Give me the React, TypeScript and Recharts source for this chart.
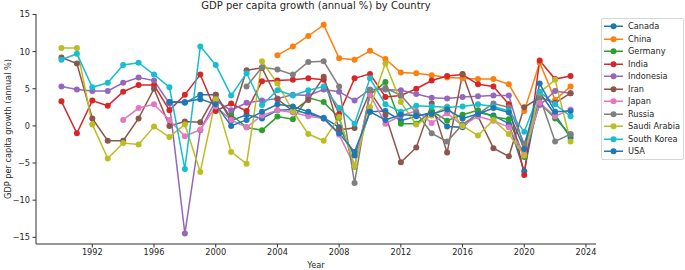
import { CartesianGrid, Line, LineChart, XAxis, YAxis } from 'recharts';

const years = [
  1990, 1991, 1992, 1993, 1994, 1995, 1996, 1997, 1998, 1999, 2000, 2001,
  2002, 2003, 2004, 2005, 2006, 2007, 2008, 2009, 2010, 2011, 2012, 2013,
  2014, 2015, 2016, 2017, 2018, 2019, 2020, 2021, 2022, 2023,
];

const _ = null;

const canada = [_, _, _, _, _, _, _, 3.2, 3.1, 4.2, 4.2, 0.7, 1.5, 1.0, 2.1, 2.2, 1.6, 1.1, -0.2, -4.0, 1.9, 2.0, 0.7, 1.3, 1.8, -0.1, -0.2, 1.8, 1.4, 0.3, -6.1, 4.5, 1.5, -1.6];
const china = [_, _, _, _, _, _, _, _, _, _, _, _, _, _, 9.5, 10.7, 12.1, 13.6, 9.1, 8.9, 10.1, 9.0, 7.2, 7.1, 6.8, 6.5, 6.4, 6.3, 6.3, 5.6, 2.0, 8.5, 3.5, 5.3];
const germany = [_, _, _, _, _, _, _, _, _, _, _, 1.5, -0.2, -0.6, 1.25, 0.9, 3.8, 3.2, 1.1, -5.5, 4.2, 5.9, 0.3, 0.3, 2.0, 0.7, 1.5, 2.1, 1.2, 0.9, -4.2, 3.1, 1.0, -1.2];
const india = [3.3, -1.0, 3.4, 2.7, 4.6, 5.5, 5.5, 2.1, 4.2, 6.9, 2.0, 3.0, 2.0, 6.0, 6.1, 6.2, 6.4, 6.2, 1.6, 6.4, 7.0, 3.9, 4.1, 5.0, 6.1, 6.7, 6.9, 5.6, 5.3, 2.9, -6.6, 8.8, 6.3, 6.7];
const indonesia = [5.3, 4.9, 4.7, 4.7, 5.8, 6.5, 6.1, 3.0, -14.5, -0.6, 3.4, 2.1, 3.1, 3.4, 3.7, 4.2, 4.1, 4.9, 4.6, 3.4, 4.9, 4.9, 4.8, 4.3, 3.8, 3.7, 3.9, 4.0, 4.1, 4.1, -3.0, 2.8, 4.7, 4.4];
const iran = [9.2, 8.4, 1.0, -2.0, -2.0, 1.0, 5.0, 0.0, 0.6, 0.5, 4.2, 1.0, 7.5, 7.8, 3.6, 2.0, 3.5, 6.6, -0.5, -0.3, 4.6, 1.5, -4.9, -2.9, 3.0, -3.6, 7.0, 1.3, -3.0, -4.1, 2.5, 3.8, 3.1, 4.4];
const japan = [_, _, _, _, 0.8, 2.4, 2.9, 0.8, -1.4, -0.5, 2.6, 0.8, -0.2, 1.4, 2.1, 1.8, 1.3, 1.0, -1.2, -5.4, 4.2, 0.3, 1.4, 2.0, 0.4, 1.7, 0.0, 1.3, 0.7, -0.2, -3.9, 3.1, 1.3, 2.2];
const russia = [_, _, _, _, _, _, _, _, _, _, _, _, 5.3, 7.9, 7.6, 6.9, 8.6, 8.7, 5.3, -7.7, 4.8, 5.1, 4.1, 1.8, -1.0, -2.1, 0.2, 1.6, 3.0, 2.5, -2.4, 3.9, -2.1, -1.1];
const saudiArabia = [10.5, 10.5, 0.2, -4.4, -2.3, -2.5, -0.1, -1.5, 0.2, -6.2, 3.6, -3.5, -5.1, 8.7, 5.7, 2.0, -1.1, -2.0, 1.2, -5.4, 2.5, 8.4, 3.2, 0.2, 1.4, 2.6, 0.0, -1.3, 0.8, -1.1, -4.0, 4.5, 6.2, -2.1];
const southKorea = [8.9, 9.7, 5.2, 5.8, 8.2, 8.5, 6.9, 5.2, -5.8, 10.7, 8.2, 4.1, 7.1, 2.8, 4.8, 4.1, 4.8, 5.3, 2.4, 0.3, 6.4, 2.9, 1.9, 2.7, 2.6, 2.5, 2.6, 2.9, 2.6, 2.0, -0.8, 4.6, 2.9, 1.3];
const usa = [_, _, _, _, _, _, _, 3.2, 3.2, 3.6, 2.9, 0.0, 0.8, 1.9, 2.9, 2.6, 1.9, 1.0, -1.0, -3.5, 1.9, 0.8, 1.5, 1.4, 1.6, 2.2, 1.0, 1.6, 2.4, 1.8, -3.1, 5.7, 1.9, 2.0];

const countries = ['Canada', 'China', 'Germany', 'India', 'Indonesia', 'Iran', 'Japan', 'Russia', 'Saudi Arabia', 'South Korea', 'USA'];
const seriesValues = [canada, china, germany, india, indonesia, iran, japan, russia, saudiArabia, southKorea, usa];
const colors = ['#1f77b4', '#ff7f0e', '#2ca02c', '#d62728', '#9467bd', '#8c564b', '#e377c2', '#7f7f7f', '#bcbd22', '#17becf', '#1f77b4'];

const xTicks = [1992, 1996, 2000, 2004, 2008, 2012, 2016, 2020, 2024];
const yTicks = [-15, -10, -5, 0, 5, 10, 15];

const rows = years.map((year, i) => {
  const row: Record<string, number | null> = { year };
  countries.forEach((name, k) => {
    row[name] = seriesValues[k][i];
  });
  return row;
});

const font = '"DejaVu Sans", sans-serif';
const tickStyle = { fontSize: 8.2, fill: '#262626', fontFamily: font };
const fmt = (v: number) => (v < 0 ? `\u2212${Math.abs(v)}` : `${v}`);

function Legend() {
  return (
    <div
      style={{
        position: 'absolute',
        left: 601,
        top: 18,
        width: 81,
        padding: '1px 0',
        border: '1px solid #d6d6d6',
        borderRadius: 2,
        background: 'rgba(255,255,255,0.8)',
        fontFamily: font,
        fontSize: 8.2,
        color: '#262626',
      }}
    >
      {countries.map((name, k) => (
        <div key={name} style={{ height: 12.5, display: 'flex', alignItems: 'center' }}>
          <svg width={26} height={12.5} style={{ flex: 'none' }}>
            <line x1={2} x2={21} y1={6.25} y2={6.25} stroke={colors[k]} strokeWidth={1.5} />
            <circle cx={11.5} cy={6.25} r={3} fill={colors[k]} />
          </svg>
          <span style={{ whiteSpace: 'nowrap' }}>{name}</span>
        </div>
      ))}
    </div>
  );
}

export default function App() {
  return (
    <div style={{ position: 'absolute', left: 0, top: 0, width: 685, height: 270, background: '#fff' }}>
      <div
        style={{
          position: 'absolute',
          left: 0,
          width: 632,
          top: 0,
          textAlign: 'center',
          fontFamily: font,
          fontSize: 10,
          color: '#262626',
          lineHeight: '12px',
        }}
      >
        GDP per capita growth (annual %) by Country
      </div>
      <LineChart width={685} height={270} data={rows} margin={{ top: 14, right: 89, bottom: 0, left: 6 }}>
        <CartesianGrid stroke="none" />
        <XAxis
          dataKey="year"
          type="number"
          domain={[1988.35, 2024.65]}
          ticks={xTicks}
          allowDataOverflow
          height={26}
          tick={tickStyle}
          tickSize={3.5}
          tickMargin={2}
          axisLine={{ stroke: '#333', strokeWidth: 1 }}
          tickLine={{ stroke: '#333', strokeWidth: 1 }}
          label={({ viewBox }: any) => (
            <text x={viewBox.x + viewBox.width / 2} y={268} textAnchor="middle" fontSize={8.2} fontFamily={font} fill="#262626">
              Year
            </text>
          )}
        />
        <YAxis
          type="number"
          domain={[-15.9, 15.06]}
          ticks={yTicks}
          allowDataOverflow
          width={30}
          tick={tickStyle}
          tickFormatter={fmt}
          tickSize={3.5}
          tickMargin={2.5}
          axisLine={{ stroke: '#333', strokeWidth: 1 }}
          tickLine={{ stroke: '#333', strokeWidth: 1 }}
          label={() => (
            <text x={8} y={129} transform="rotate(-90 8 129)" textAnchor="middle" dominantBaseline="central" fontSize={8.2} fontFamily={font} fill="#262626">
              GDP per capita growth (annual %)
            </text>
          )}
        />
        {countries.map((name, k) => (
          <Line
            key={name}
            dataKey={name}
            stroke={colors[k]}
            strokeWidth={1.5}
            dot={{ r: 3, fill: colors[k], stroke: colors[k], strokeWidth: 0 }}
            activeDot={false}
            isAnimationActive={false}
            connectNulls={false}
          />
        ))}
      </LineChart>
      <Legend />
    </div>
  );
}
